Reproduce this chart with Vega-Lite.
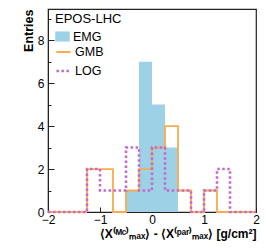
{
  "$schema": "https://vega.github.io/schema/vega-lite/v6.json",
  "width": 208,
  "height": 203,
  "autosize": {"type": "none"},
  "padding": {"left": 48, "top": 9, "right": 10, "bottom": 38},
  "config": {
    "view": {"stroke": "#222", "strokeWidth": 1.2},
    "font": "Liberation Sans",
    "axis": {"domainColor": "#222", "tickColor": "#222", "labelColor": "#000", "titleColor": "#000", "grid": false, "labelFont": "Liberation Sans", "titleFont": "Liberation Sans"}
  },
  "datasets": {
    "emg": [
      {"series": "EMG", "x0": -0.5, "x1": -0.25, "count": 1},
      {"series": "EMG", "x0": -0.25, "x1": 0, "count": 7},
      {"series": "EMG", "x0": 0, "x1": 0.25, "count": 5},
      {"series": "EMG", "x0": 0.25, "x1": 0.5, "count": 3}
    ],
    "steps": [
      {"series": "GMB", "edge": -2, "count": 0},
      {"series": "GMB", "edge": -1.75, "count": 0},
      {"series": "GMB", "edge": -1.5, "count": 0},
      {"series": "GMB", "edge": -1.25, "count": 2},
      {"series": "GMB", "edge": -1, "count": 2},
      {"series": "GMB", "edge": -0.75, "count": 0},
      {"series": "GMB", "edge": -0.5, "count": 1},
      {"series": "GMB", "edge": -0.25, "count": 2},
      {"series": "GMB", "edge": 0, "count": 3},
      {"series": "GMB", "edge": 0.25, "count": 4},
      {"series": "GMB", "edge": 0.5, "count": 1},
      {"series": "GMB", "edge": 0.75, "count": 0},
      {"series": "GMB", "edge": 1, "count": 1},
      {"series": "GMB", "edge": 1.25, "count": 0},
      {"series": "GMB", "edge": 1.5, "count": 0},
      {"series": "GMB", "edge": 1.75, "count": 0},
      {"series": "GMB", "edge": 2, "count": 0},
      {"series": "LOG", "edge": -2, "count": 0},
      {"series": "LOG", "edge": -1.75, "count": 0},
      {"series": "LOG", "edge": -1.5, "count": 0},
      {"series": "LOG", "edge": -1.25, "count": 2},
      {"series": "LOG", "edge": -1, "count": 1},
      {"series": "LOG", "edge": -0.75, "count": 1},
      {"series": "LOG", "edge": -0.5, "count": 3},
      {"series": "LOG", "edge": -0.25, "count": 1},
      {"series": "LOG", "edge": 0, "count": 3},
      {"series": "LOG", "edge": 0.25, "count": 1},
      {"series": "LOG", "edge": 0.5, "count": 1},
      {"series": "LOG", "edge": 0.75, "count": 0},
      {"series": "LOG", "edge": 1, "count": 1},
      {"series": "LOG", "edge": 1.25, "count": 2},
      {"series": "LOG", "edge": 1.5, "count": 0},
      {"series": "LOG", "edge": 1.75, "count": 0},
      {"series": "LOG", "edge": 2, "count": 0}
    ]
  },
  "layer": [
    {
      "data": {"name": "emg"},
      "mark": {"type": "rect"},
      "encoding": {
        "x": {
          "field": "x0", "type": "quantitative",
          "scale": {"domain": [-2, 2], "nice": false, "zero": false},
          "axis": {
            "values": [-2, -1.5, -1, -0.5, 0, 0.5, 1, 1.5, 2],
            "format": "~g",
            "tickSize": -5,
            "labelPadding": 7,
            "labelFontSize": 12,
            "labelFlush": false,
            "labelOverlap": false,
            "title": "⟨X⁽ᴹᶜ⁾ₘₐₓ⟩ - ⟨X⁽ᵖᵃʳ⁾ₘₐₓ⟩ [g/cm²]",
            "titleAnchor": "end",
            "titleFontSize": 12,
            "titleFontWeight": "bold",
            "titlePadding": 3
          }
        },
        "x2": {"field": "x1"},
        "y": {
          "field": "count", "type": "quantitative",
          "scale": {"domain": [0, 9.45], "nice": false},
          "axis": {
            "values": [0, 2, 4, 6, 8],
            "tickSize": -6,
            "labelPadding": 10,
            "labelFontSize": 12,
            "title": "Entries",
            "titleAnchor": "end",
            "titleFontSize": 12.5,
            "titleFontWeight": "bold",
            "titlePadding": 2
          }
        },
        "y2": {"datum": 0},
        "fill": {
          "field": "series", "type": "nominal",
          "scale": {"domain": ["EMG"], "range": ["#9dd1e6"]},
          "legend": {
            "title": "EPOS-LHC",
            "orient": "none",
            "legendX": 7,
            "legendY": 4,
            "padding": 0,
            "titleFontSize": 13,
            "titleFontWeight": "normal",
            "titleFont": "Liberation Sans",
            "titleColor": "#000",
            "titlePadding": 3,
            "labelFontSize": 12.5,
            "labelFont": "Liberation Sans",
            "labelColor": "#000",
            "labelOffset": 3,
            "symbolType": "M-1,-0.7H1V0.7H-1Z",
            "symbolSize": 210,
            "symbolStrokeWidth": 0,
            "symbolOpacity": 1
          }
        }
      }
    },
    {
      "data": {"name": "steps"},
      "mark": {"type": "line", "interpolate": "step-after"},
      "encoding": {
        "x": {"field": "edge", "type": "quantitative"},
        "y": {
          "field": "count", "type": "quantitative",
          "axis": {
            "orient": "left",
            "values": [1, 3, 5, 7, 9],
            "tickSize": -3,
            "labels": false,
            "domain": false,
            "title": null
          }
        },
        "stroke": {
          "field": "series", "type": "nominal",
          "scale": {"domain": ["GMB", "LOG"], "range": ["#f9ab4d", "#c36bcb"]},
          "legend": {
            "title": null,
            "orient": "none",
            "legendX": 7,
            "legendY": 35,
            "padding": 0,
            "rowPadding": 3.5,
            "labelFontSize": 12.5,
            "labelFont": "Liberation Sans",
            "labelColor": "#000",
            "labelOffset": 3,
            "symbolType": "stroke",
            "symbolSize": 200,
            "symbolStrokeWidth": 2
          }
        },
        "strokeDash": {
          "field": "series", "type": "nominal",
          "scale": {"domain": ["GMB", "LOG"], "range": [[1, 0], [2.5, 2.5]]},
          "legend": {
            "title": null,
            "orient": "none",
            "legendX": 7,
            "legendY": 35,
            "padding": 0,
            "rowPadding": 3.5,
            "labelFontSize": 12.5,
            "labelFont": "Liberation Sans",
            "labelColor": "#000",
            "labelOffset": 3,
            "symbolType": "stroke",
            "symbolSize": 200,
            "symbolStrokeWidth": 2
          }
        },
        "strokeWidth": {
          "field": "series", "type": "nominal",
          "scale": {"domain": ["GMB", "LOG"], "range": [1.8, 2.6]},
          "legend": null
        }
      }
    }
  ],
  "resolve": {"axis": {"y": "independent"}}
}
